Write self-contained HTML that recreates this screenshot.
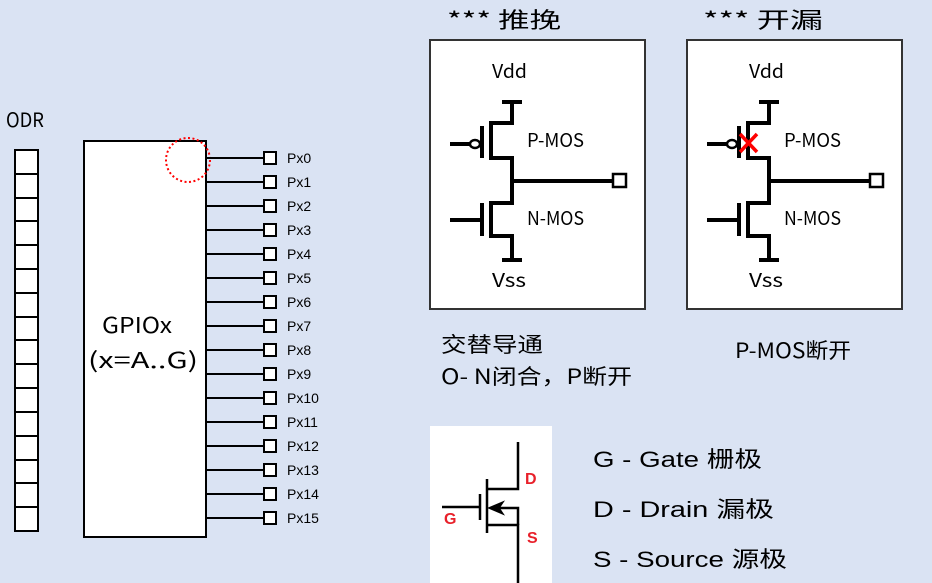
<!DOCTYPE html>
<html><head><meta charset="utf-8"><style>
html,body{margin:0;padding:0;background:#dae3f3;}
svg{display:block;}
text{font-family:"Liberation Sans","Noto Sans CJK SC",sans-serif;}
.c{font-family:"Noto Sans CJK SC","Liberation Sans",sans-serif;}
</style></head><body>
<svg width="932" height="583" viewBox="0 0 932 583" xmlns="http://www.w3.org/2000/svg">
<rect width="932" height="583" fill="#dae3f3"/>
<text x="6" y="127" font-size="20" class="c" textLength="38" lengthAdjust="spacingAndGlyphs">ODR</text>
<rect x="15" y="150" width="23" height="381" fill="#fff" stroke="#000" stroke-width="2"/>
<g stroke="#000" stroke-width="2">
<line x1="15" y1="174" x2="38" y2="174"/><line x1="15" y1="198" x2="38" y2="198"/><line x1="15" y1="221" x2="38" y2="221"/><line x1="15" y1="245" x2="38" y2="245"/><line x1="15" y1="269" x2="38" y2="269"/><line x1="15" y1="293" x2="38" y2="293"/><line x1="15" y1="317" x2="38" y2="317"/><line x1="15" y1="340" x2="38" y2="340"/><line x1="15" y1="364" x2="38" y2="364"/><line x1="15" y1="388" x2="38" y2="388"/><line x1="15" y1="412" x2="38" y2="412"/><line x1="15" y1="436" x2="38" y2="436"/><line x1="15" y1="460" x2="38" y2="460"/><line x1="15" y1="483" x2="38" y2="483"/><line x1="15" y1="507" x2="38" y2="507"/>
</g>
<rect x="84" y="141" width="122" height="396" fill="#fff" stroke="#000" stroke-width="2"/>
<text x="102" y="333" font-size="22" class="c" textLength="70" lengthAdjust="spacingAndGlyphs">GPIOx</text>
<text x="88" y="368" font-size="22" class="c" textLength="110" lengthAdjust="spacingAndGlyphs">(x=A..G)</text>
<circle cx="188" cy="160" r="22" fill="none" stroke="#f00" stroke-width="2" stroke-dasharray="2,2.5"/>
<path stroke="#000" stroke-width="2" d="M206 158H263M206 182H263M206 206H263M206 230H263M206 254H263M206 278H263M206 302H263M206 326H263M206 350H263M206 374H263M206 398H263M206 422H263M206 446H263M206 470H263M206 494H263M206 518H263"/>
<g fill="#fff" stroke="#000" stroke-width="2">
<rect x="264" y="152" width="12" height="12"/><rect x="264" y="176" width="12" height="12"/><rect x="264" y="200" width="12" height="12"/><rect x="264" y="224" width="12" height="12"/><rect x="264" y="248" width="12" height="12"/><rect x="264" y="272" width="12" height="12"/><rect x="264" y="296" width="12" height="12"/><rect x="264" y="320" width="12" height="12"/><rect x="264" y="344" width="12" height="12"/><rect x="264" y="368" width="12" height="12"/><rect x="264" y="392" width="12" height="12"/><rect x="264" y="416" width="12" height="12"/><rect x="264" y="440" width="12" height="12"/><rect x="264" y="464" width="12" height="12"/><rect x="264" y="488" width="12" height="12"/><rect x="264" y="512" width="12" height="12"/>
</g>
<g font-size="14" fill="#000">
<text x="287" y="163">Px0</text><text x="287" y="187">Px1</text><text x="287" y="211">Px2</text><text x="287" y="235">Px3</text><text x="287" y="259">Px4</text><text x="287" y="283">Px5</text><text x="287" y="307">Px6</text><text x="287" y="331">Px7</text><text x="287" y="355">Px8</text><text x="287" y="379">Px9</text><text x="287" y="403">Px10</text><text x="287" y="427">Px11</text><text x="287" y="451">Px12</text><text x="287" y="475">Px13</text><text x="287" y="499">Px14</text><text x="287" y="523">Px15</text>
</g>
<text x="447" y="28" font-size="22" class="c" textLength="114" lengthAdjust="spacingAndGlyphs">*** 推挽</text>
<text x="703" y="28" font-size="22" class="c" textLength="120" lengthAdjust="spacingAndGlyphs">*** 开漏</text>
<defs>
<g id="ckt">
<rect x="430" y="40" width="215" height="269" fill="#fff" stroke="#333" stroke-width="2"/>
<g stroke="#000" stroke-width="4" fill="none">
<path d="M502 102H522M512 102V123H490"/>
<path d="M491 121V160M482 126V158"/>
<path d="M490 158H512V203H490"/>
<path d="M512 181H612"/>
<path d="M491 201V238M482 203V236"/>
<path d="M490 236H512V260M502 260H522"/>
<path d="M450 144H470"/>
<path d="M450 220H482"/>
</g>
<ellipse cx="475" cy="144" rx="5" ry="4" fill="#fff" stroke="#000" stroke-width="2.5"/>
<rect x="613" y="174" width="13" height="13" fill="#fff" stroke="#000" stroke-width="2.5"/>
<text x="492" y="78" font-size="19" class="c" textLength="35" lengthAdjust="spacingAndGlyphs">Vdd</text>
<text x="527" y="147" font-size="19" class="c" textLength="57" lengthAdjust="spacingAndGlyphs">P-MOS</text>
<text x="527" y="225" font-size="19" class="c" textLength="57" lengthAdjust="spacingAndGlyphs">N-MOS</text>
<text x="492" y="287" font-size="19" class="c" textLength="34" lengthAdjust="spacingAndGlyphs">Vss</text>
</g>
</defs>
<use href="#ckt"/>
<use href="#ckt" transform="translate(257,0)"/>
<path d="M740 134L757 152M757 134L740 152" stroke="#f00" stroke-width="3.5"/>
<text x="441" y="352" font-size="21" class="c" textLength="102" lengthAdjust="spacingAndGlyphs">交替导通</text>
<text x="441" y="384" font-size="21" class="c" textLength="191" lengthAdjust="spacingAndGlyphs">O- N闭合，P断开</text>
<text x="735" y="358" font-size="21" class="c" textLength="116" lengthAdjust="spacingAndGlyphs">P-MOS断开</text>
<rect x="430" y="426" width="122" height="157" fill="#fff"/>
<g stroke="#000" stroke-width="2.5" fill="none">
<path d="M518 442V489H487"/>
<path d="M487 479V533M480 494V520M442 507H480"/>
<path d="M487 525H518V583"/>
<path d="M518 525V508H492"/>
</g>
<path d="M489 508L503 502L499 508L503 514Z" fill="#000" stroke="#000" stroke-width="1.5"/>
<g fill="#e8202a" font-weight="bold" font-size="16">
<text x="525" y="484">D</text>
<text x="444" y="524">G</text>
<text x="527" y="543">S</text>
</g>
<g font-size="22" class="c">
<text x="593" y="467" textLength="169" lengthAdjust="spacingAndGlyphs">G - Gate 栅极</text>
<text x="593" y="517" textLength="181" lengthAdjust="spacingAndGlyphs">D - Drain 漏极</text>
<text x="593" y="567" textLength="194" lengthAdjust="spacingAndGlyphs">S - Source 源极</text>
</g>
</svg>
</body></html>
